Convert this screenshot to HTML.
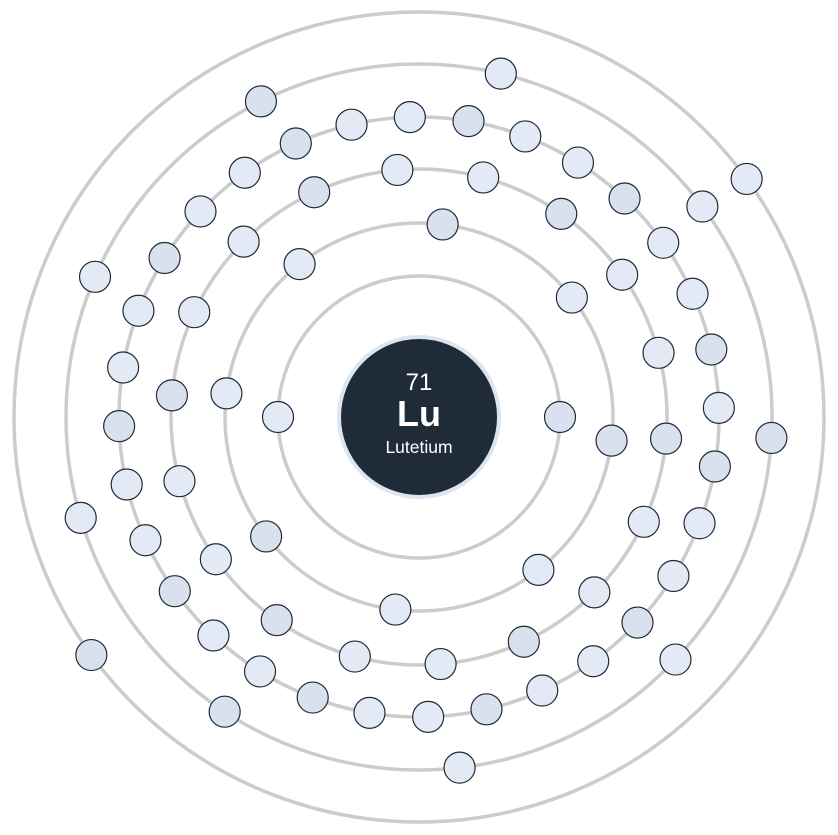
<!DOCTYPE html>
<html><head><meta charset="utf-8"><style>
html,body{margin:0;padding:0;background:#fff;}
svg{display:block;}
</style></head><body>
<svg id="chart" width="838" height="835" viewBox="0 0 838 835">
<g id="rings"></g>
<g id="electrons"></g>
<g>
<circle cx="419" cy="417" r="80" fill="#1f2b36" stroke="#dde5f0" stroke-width="4"/>
<text x="419" y="390" text-anchor="middle" fill="#fff" font-family="Liberation Sans, sans-serif" font-size="24">71</text>
<text x="419" y="426" text-anchor="middle" fill="#fff" font-family="Liberation Sans, sans-serif" font-size="36" font-weight="bold">Lu</text>
<text x="419" y="453" text-anchor="middle" fill="#fff" font-family="Liberation Sans, sans-serif" font-size="17.5">Lutetium</text>
</g>
</svg>
<script>
const shellCounts = [2, 8, 18, 32, 9, 2];
const shellRadii = [141, 194, 248, 300, 353, 405];
const shellOffsetsDeg = [0, 7, 5, 9.5, 3.4, 144];
const cx = 419, cy = 417;
const ns = 'http://www.w3.org/2000/svg';
const rings = document.getElementById('rings');
const els = document.getElementById('electrons');
shellCounts.forEach((n, i) => {
  const r = shellRadii[i];
  const c = document.createElementNS(ns, 'circle');
  c.setAttribute('cx', cx); c.setAttribute('cy', cy); c.setAttribute('r', r);
  c.setAttribute('fill', 'none'); c.setAttribute('stroke', '#cccccc'); c.setAttribute('stroke-width', '3.5');
  
  
  rings.appendChild(c);
  for (let k = 0; k < n; k++) {
    const a = (shellOffsetsDeg[i] + k * 360 / n) * Math.PI / 180;
    const e = document.createElementNS(ns, 'circle');
    e.setAttribute('cx', cx + r * Math.cos(a));
    e.setAttribute('cy', cy + r * Math.sin(a));
    e.setAttribute('r', 15.5);
    e.setAttribute('fill', (k % 3 === 0) ? '#dae1ee' : '#e3eaf6');
    e.setAttribute('stroke', '#1f2b36'); e.setAttribute('stroke-width', '1.2');
    
    
    els.appendChild(e);
  }
});
</script>
</body></html>
